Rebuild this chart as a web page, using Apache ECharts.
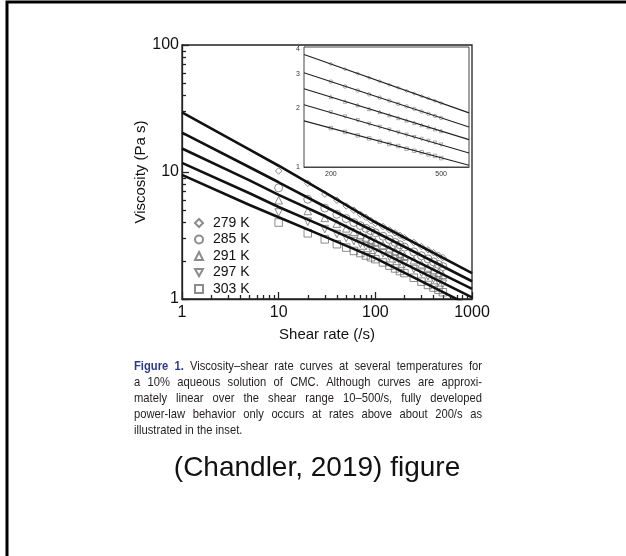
<!DOCTYPE html>
<html>
<head>
<meta charset="utf-8">
<script src="https://cdn.jsdelivr.net/npm/echarts@6/dist/echarts.min.js"></script>
<style>html,body{margin:0;padding:0;background:#fff}#c{width:626px;height:556px}</style>
</head>
<body>
<div id="c"></div>
<script>
// ---------- data ----------
const shearRate = [10,20,30,40,50,60,70,80,90,100,120,140,160,180,200,250,300,350,400,450,500];
const visc279K = [10.2,8.15,6.7,6.0,5.4,5.0,4.65,4.4,4.15,3.95,3.72,3.5,3.32,3.17,3.04,2.79,2.59,2.44,2.32,2.21,2.12];
const visc285K = [7.5,6.1,5.2,4.65,4.3,4.0,3.78,3.6,3.45,3.32,3.12,2.94,2.79,2.67,2.56,2.35,2.19,2.07,1.96,1.87,1.80];
const visc291K = [6.0,4.93,4.35,3.92,3.6,3.38,3.2,3.05,2.93,2.83,2.66,2.51,2.39,2.28,2.19,2.02,1.88,1.77,1.69,1.61,1.55];
const visc297K = [4.8,4.06,3.55,3.25,3.02,2.86,2.72,2.6,2.5,2.43,2.29,2.15,2.05,1.96,1.88,1.72,1.61,1.51,1.44,1.37,1.32];
const visc303K = [4.0,3.29,2.95,2.7,2.54,2.39,2.3,2.2,2.13,2.06,1.94,1.83,1.74,1.66,1.60,1.47,1.37,1.29,1.23,1.18,1.13];

const fitShearRate = [1,5,10,30,100,1000];
const fit279K = [29.5,15.0,11.2,6.9,4.02,1.6];
const fit285K = [20.4,10.9,8.3,5.35,3.37,1.38];
const fit291K = [15.3,8.6,6.6,4.5,2.87,1.2];
const fit297K = [11.8,6.8,5.3,3.7,2.47,1.03];
const fit303K = [9.5,5.5,4.4,3.1,2.1,0.87];

const insetShearRate = [200,225,250,275,300,325,350,375,400,425,450,475,500];
const inset279K = [3.36,3.16,3.0,2.86,2.74,2.63,2.54,2.45,2.37,2.30,2.24,2.18,2.12];
const inset285K = [2.73,2.58,2.46,2.35,2.26,2.18,2.10,2.04,1.98,1.92,1.87,1.82,1.78];
const inset291K = [2.28,2.16,2.07,1.98,1.91,1.84,1.78,1.73,1.68,1.64,1.60,1.56,1.53];
const inset297K = [1.90,1.81,1.73,1.66,1.60,1.55,1.50,1.46,1.42,1.39,1.36,1.33,1.30];
const inset303K = [1.58,1.51,1.45,1.40,1.35,1.31,1.28,1.24,1.21,1.19,1.16,1.14,1.11];

const insetFitShearRate = [160,630];
const insetFit279K = [3.75,1.89];
const insetFit285K = [3.03,1.60];
const insetFit291K = [2.51,1.38];
const insetFit297K = [2.08,1.18];
const insetFit303K = [1.72,1.02];

const temperatures = ['279 K','285 K','291 K','297 K','303 K'];
const xMajorTicks = [1,10,100,1000];
const xMinorTicks = [2,3,4,5,6,7,8,9,20,30,40,50,60,70,80,90,200,300,400,500,600,700,800,900];
const yMajorTicks = [1,10,100];
const yMinorTicks = [2,3,4,5,6,7,8,9,20,30,40,50,60,70,80,90];
const insetXTicks = [200,300,400,500];
const insetXLabels = [200,500];
const insetYTicks = [1,2,3,4];

const captionLines = [
  'Figure 1. Viscosity\u2013shear rate curves at several temperatures for',
  'a 10% aqueous solution of CMC. Although curves are approxi-',
  'mately linear over the shear range 10\u2013500/s, fully developed',
  'power-law behavior only occurs at rates above about 200/s as',
  'illustrated in the inset.'
];

// ---------- helpers ----------
const zip = (xs, ys) => xs.map((x, i) => [x, ys[i]]);
const FONT = "'Liberation Sans', Arial, sans-serif";
const markerSymbols = ['diamond','circle','triangle','path://M0,0L10,0L5,9Z','rect'];
const markerSizes = [6.5,8,7.5,7.5,7.5];
const mainData = [visc279K,visc285K,visc291K,visc297K,visc303K];
const fitData = [fit279K,fit285K,fit291K,fit297K,fit303K];
const insetData = [inset279K,inset285K,inset291K,inset297K,inset303K];
const insetFitData = [insetFit279K,insetFit285K,insetFit291K,insetFit297K,insetFit303K];
const plainLabel = v => String(v);

const series = [];
temperatures.forEach((t, i) => {
  series.push({
    name: t, type: 'scatter', xAxisIndex: 0, yAxisIndex: 0, z: 2,
    symbol: markerSymbols[i], symbolSize: markerSizes[i],
    itemStyle: { color: 'rgba(255,255,255,0)', borderColor: '#6f6f6f', borderWidth: 1 },
    data: zip(shearRate, mainData[i])
  });
});
temperatures.forEach((t, i) => {
  series.push({
    name: t + ' fit', type: 'line', xAxisIndex: 0, yAxisIndex: 0, z: 3,
    showSymbol: false, symbol: 'none', clip: true, silent: true,
    lineStyle: { color: '#111', width: 2.6 },
    data: zip(fitShearRate, fitData[i])
  });
});
temperatures.forEach((t, i) => {
  series.push({
    name: t + ' inset', type: 'scatter', xAxisIndex: 2, yAxisIndex: 2, z: 2,
    symbol: markerSymbols[i], symbolSize: 3.5, silent: true,
    itemStyle: { color: 'rgba(255,255,255,0)', borderColor: '#808080', borderWidth: 0.8 },
    data: zip(insetShearRate, insetData[i])
  });
  series.push({
    name: t + ' inset fit', type: 'line', xAxisIndex: 2, yAxisIndex: 2, z: 3,
    showSymbol: false, symbol: 'none', silent: true,
    lineStyle: { color: '#222', width: 1.1 },
    data: zip(insetFitShearRate, insetFitData[i])
  });
});

// ---------- caption layout (justified, condensed) ----------
function captionGraphics() {
  const ctx = document.createElement('canvas').getContext('2d');
  const fam = "'Liberation Sans', Arial, sans-serif";
  const left = 134, width = 348, top = 366, lh = 16;
  const boldCount = 2;
  let size = 13.5;
  const sx = 0.83;
  function wordsOf(line, li) { return line.split(' ').map((w, k) => ({ w, bold: li === 0 && k < boldCount })); }
  function measure(sz, wd) { ctx.font = (wd.bold ? 'bold ' : '') + sz + 'px ' + fam; return ctx.measureText(wd.w).width * sx; }
  ctx.font = size + 'px ' + fam;
  const spaceW0 = ctx.measureText(' ').width * sx;
  let maxNat = 0;
  captionLines.forEach((l, li) => {
    const ws = wordsOf(l, li);
    const nat = ws.reduce((s, wd) => s + measure(size, wd), 0) + spaceW0 * (ws.length - 1);
    maxNat = Math.max(maxNat, nat);
  });
  if (maxNat > width - 2) size = size * (width - 2) / maxNat;
  ctx.font = size + 'px ' + fam;
  const spaceW = ctx.measureText(' ').width * sx;
  const els = [];
  captionLines.forEach((l, li) => {
    const ws = wordsOf(l, li);
    const widths = ws.map(wd => measure(size, wd));
    const tot = widths.reduce((a, b) => a + b, 0);
    const justify = li < captionLines.length - 1;
    const gap = justify ? (width - tot) / (ws.length - 1) : spaceW;
    let x = left;
    ws.forEach((wd, k) => {
      els.push({
        type: 'text', x: x, y: top + lh * li, scaleX: sx, silent: true,
        style: { text: wd.w, font: (wd.bold ? 'bold ' : '') + size + 'px ' + fam,
                 fill: wd.bold ? '#2b3a8f' : '#231f20', verticalAlign: 'middle', align: 'left' }
      });
      x += widths[k] + gap;
    });
  });
  return els;
}

const axisLineStyle = { color: '#222', width: 1.3 };

const option = {
  backgroundColor: '#fff',
  animation: false,
  textStyle: { fontFamily: FONT },
  grid: [
    { left: 182, top: 45, width: 290, height: 254, show: true, borderColor: '#222', borderWidth: 1.3, backgroundColor: 'rgba(0,0,0,0)', containLabel: false },
    { left: 304, top: 47, width: 165, height: 120, show: true, borderColor: '#444', borderWidth: 1, backgroundColor: '#fff', containLabel: false, z: 1 }
  ],
  legend: {
    data: temperatures, orient: 'vertical', left: 189, top: 211,
    itemWidth: 8, itemHeight: 8, itemGap: 2.5, selectedMode: false,
    textStyle: { fontSize: 14, lineHeight: 14, color: '#111', fontFamily: FONT, padding: [0, 0, 0, 5] }
  },
  xAxis: [
    { type: 'log', gridIndex: 0, position: 'bottom', min: 1, max: 1000,
      name: 'Shear rate (/s)', nameLocation: 'middle', nameGap: 28,
      nameTextStyle: { fontSize: 15, color: '#111', fontFamily: FONT },
      axisLine: { show: true, lineStyle: axisLineStyle },
      axisTick: { show: true, inside: true, length: 7, lineStyle: axisLineStyle, customValues: xMajorTicks },
      axisLabel: { fontSize: 16, color: '#111', margin: 6, fontFamily: FONT, customValues: xMajorTicks, formatter: plainLabel },
      splitLine: { show: false } },
    { type: 'log', gridIndex: 0, position: 'bottom', min: 1, max: 1000,
      axisLine: { show: false },
      axisTick: { show: true, inside: true, length: 4, lineStyle: axisLineStyle, customValues: xMinorTicks },
      axisLabel: { show: false }, splitLine: { show: false } },
    { type: 'log', gridIndex: 1, position: 'bottom', min: 160, max: 630,
      axisLine: { show: true, lineStyle: { color: '#444', width: 1 } },
      axisTick: { show: true, inside: true, length: 5, lineStyle: { color: '#333', width: 1 }, customValues: insetXTicks },
      axisLabel: { fontSize: 7, color: '#333', margin: 4, fontFamily: FONT, customValues: insetXLabels, formatter: plainLabel },
      splitLine: { show: false } }
  ],
  yAxis: [
    { type: 'log', gridIndex: 0, position: 'left', min: 1, max: 100,
      name: 'Viscosity (Pa s)', nameLocation: 'middle', nameGap: 30, nameRotate: 90,
      nameTextStyle: { fontSize: 15, color: '#111', fontFamily: FONT },
      axisLine: { show: true, lineStyle: axisLineStyle },
      axisTick: { show: true, inside: true, length: 7, lineStyle: axisLineStyle, customValues: yMajorTicks },
      axisLabel: { fontSize: 16, color: '#111', margin: 3, fontFamily: FONT, customValues: yMajorTicks, formatter: plainLabel },
      splitLine: { show: false } },
    { type: 'log', gridIndex: 0, position: 'left', min: 1, max: 100,
      axisLine: { show: false },
      axisTick: { show: true, inside: true, length: 4, lineStyle: axisLineStyle, customValues: yMinorTicks },
      axisLabel: { show: false }, splitLine: { show: false } },
    { type: 'log', gridIndex: 1, position: 'left', min: 1, max: 4.1,
      axisLine: { show: true, lineStyle: { color: '#444', width: 1 } },
      axisTick: { show: true, inside: true, length: 3, lineStyle: { color: '#333', width: 1 }, customValues: insetYTicks },
      axisLabel: { fontSize: 7, color: '#333', margin: 4, fontFamily: FONT, customValues: insetYTicks, formatter: plainLabel },
      splitLine: { show: false } }
  ],
  series: series,
  graphic: [
    { type: 'rect', silent: true, shape: { x: 7, y: 2, width: 700, height: 700 },
      style: { fill: 'none', stroke: '#000', lineWidth: 3 } },
    { type: 'text', x: 317, y: 468, silent: true,
      style: { text: '(Chandler, 2019) figure', font: "28px 'Liberation Sans', Arial, sans-serif",
               fill: '#111', align: 'center', verticalAlign: 'middle' } }
  ].concat(captionGraphics())
};

const chart = echarts.init(document.getElementById('c'), null, { renderer: 'canvas' });
chart.setOption(option);
</script>
</body>
</html>
